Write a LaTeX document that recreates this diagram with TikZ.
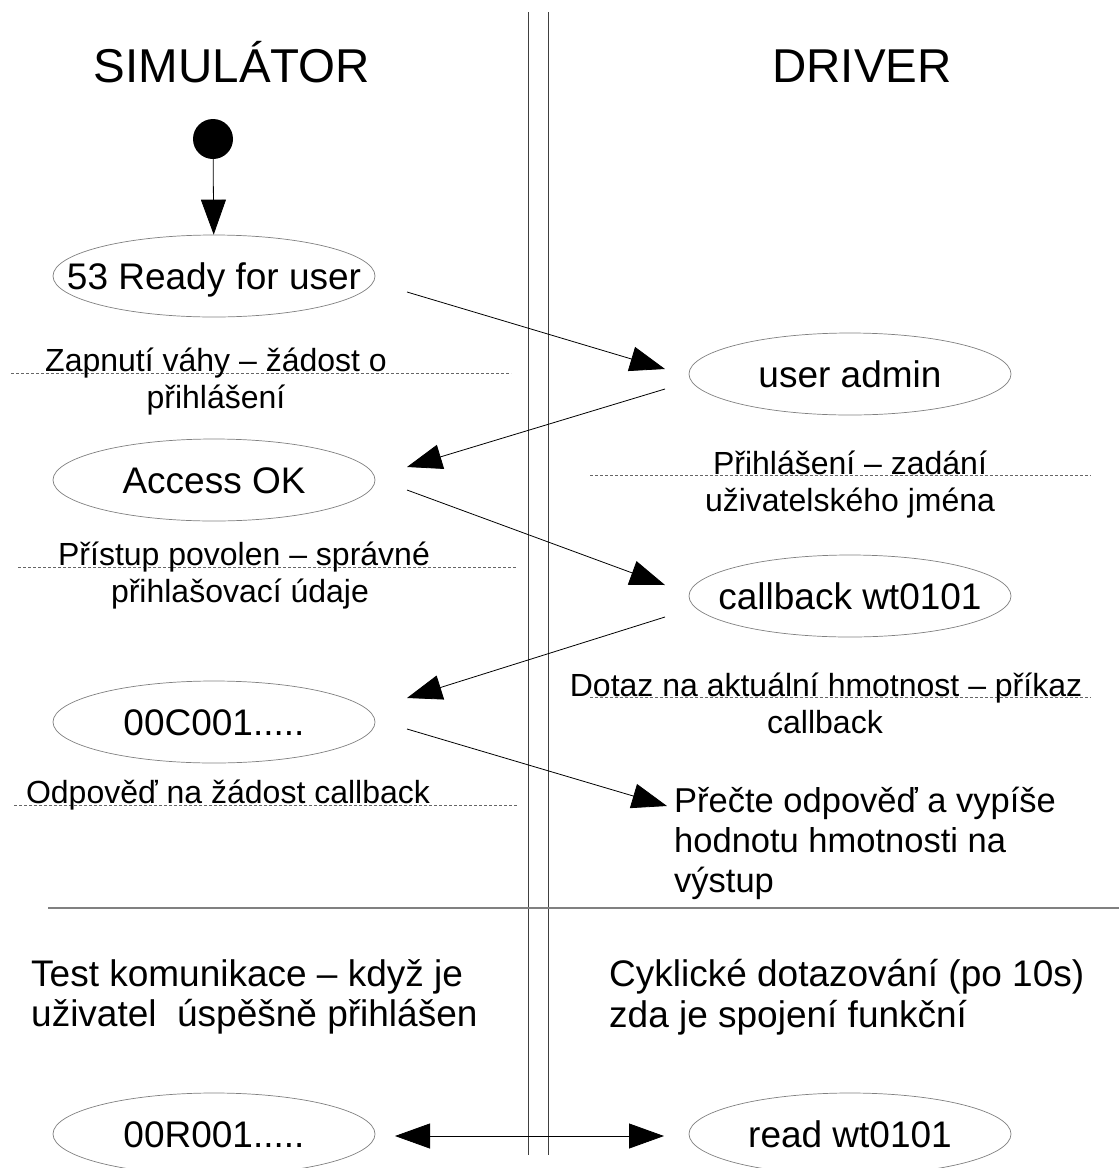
\documentclass[tikz,border=0pt]{standalone}
\usepackage{fontspec}
\setmainfont{Liberation Sans}
\usetikzlibrary{arrows.meta,shapes.geometric}
% state text must not widen the fixed-size ellipse
\newcommand\stlabel[1]{\makebox[0pt]{#1}}
\tikzset{
  state/.style={ellipse, draw=gray, line width=0.7pt, minimum width=322pt,
    minimum height=82pt, inner sep=0pt, text height=26.5pt, text depth=0pt,
    font=\fontsize{37}{42}\selectfont},
  msg/.style={line width=0.8pt, -{Triangle[length=35pt,width=25pt]}},
  bothmsg/.style={line width=0.8pt, {Triangle[length=35pt,width=25pt]}-{Triangle[length=35pt,width=25pt]}},
  note/.style={font=\fontsize{32}{37}\selectfont, inner sep=0pt, anchor=base},
  body/.style={font=\fontsize{37}{42}\selectfont, inner sep=0pt, anchor=base west},
  output/.style={font=\fontsize{34.5}{40}\selectfont, inner sep=0pt, anchor=base west},
  lanetitle/.style={font=\fontsize{47.5}{54}\selectfont, inner sep=0pt, anchor=base},
  guide/.style={draw=gray!80!black, line width=0.8pt, dash pattern=on 3pt off 2pt},
  lane/.style={draw=black!75, line width=1pt},
  divider/.style={draw=gray, line width=1.5pt},
}
\begin{document}
\begin{tikzpicture}[x=1pt, y=-1pt]
\clip (0,0) rectangle (1119,1168);
\fill[white] (0,0) rectangle (1119,1168);

% swimlane separators
\draw[lane] (528,12) -- (528,1155);
\draw[lane] (548,12) -- (548,1155);
\draw[divider] (48,908) -- (1119,908);

% lane titles
\node[lanetitle] (tsim) at (232,82) {SIMULÁTOR};
\node[lanetitle] (tdrv) at (862,82) {DRIVER};

% initial state
\node[circle, fill=black, minimum size=40pt, inner sep=0pt] (start) at (213,139) {};

% states
\node[state] (e1) at (214,276) {\stlabel{53 Ready for user}};
\node[state] (e2) at (850,374) {\stlabel{user admin}};
\node[state] (e3) at (214,480) {\stlabel{Access OK}};
\node[state] (e4) at (850,596) {\stlabel{callback wt0101}};
\node[state] (e5) at (214,722) {\stlabel{00C001.....}};
\node[state] (e6) at (214,1134) {\stlabel{00R001.....}};
\node[state] (e7) at (850,1134) {\stlabel{read wt0101}};

% message ends
\coordinate (a1s) at (407,292);
\coordinate (a1e) at (665,369);
\coordinate (a2s) at (665,389);
\coordinate (a2e) at (407,467);
\coordinate (a3s) at (407,490);
\coordinate (a3e) at (665,585);
\coordinate (a4s) at (665,617);
\coordinate (a4e) at (407,698);
\coordinate (a5s) at (407,729);
\coordinate (a5e) at (667,806);
\coordinate (a6s) at (395,1136);
\coordinate (a6e) at (664,1136);

% messages
\draw[msg] (start) -- (e1);
\draw[msg] (a1s) -- (a1e);
\draw[msg] (a2s) -- (a2e);
\draw[msg] (a3s) -- (a3e);
\draw[msg] (a4s) -- (a4e);
\draw[msg] (a5s) -- (a5e);
\draw[bothmsg] (a6s) -- (a6e);

% annotations with guide lines
\draw[guide] (11,373) -- (511,373);
\node[note] (n1a) at (216,371) {Zapnutí váhy – žádost o};
\node[note] (n1b) at (216,408) {přihlášení};

\draw[guide] (590,475) -- (1091,475);
\node[note] (n2a) at (850,474) {Přihlášení – zadání};
\node[note] (n2b) at (850,511) {uživatelského jména};

\draw[guide] (18,567) -- (516,567);
\node[note] (n3a) at (244,565) {Přístup povolen – správné};
\node[note] (n3b) at (240,602) {přihlašovací údaje};

\draw[guide] (590,697) -- (1091,697);
\node[note] (n4a) at (826,696) {Dotaz na aktuální hmotnost – příkaz};
\node[note] (n4b) at (825,733) {callback};

\draw[guide] (14,805) -- (518,805);
\node[note] (n5a) at (228,803) {Odpověď na žádost callback};

% driver output
\node[output] (o1) at (674,812) {Přečte odpověď a vypíše};
\node[output] (o2) at (674,852) {hodnotu hmotnosti na};
\node[output] (o3) at (674,892) {výstup};

% communication test
\node[body] (c1) at (31,986) {Test komunikace – když je};
\node[body] (c2) at (31,1026) {uživatel\ \ úspěšně přihlášen};
\node[body] (d1) at (609,986) {Cyklické dotazování (po 10s)};
\node[body] (d2) at (609,1027) {zda je spojení funkční};
\end{tikzpicture}
\end{document}
